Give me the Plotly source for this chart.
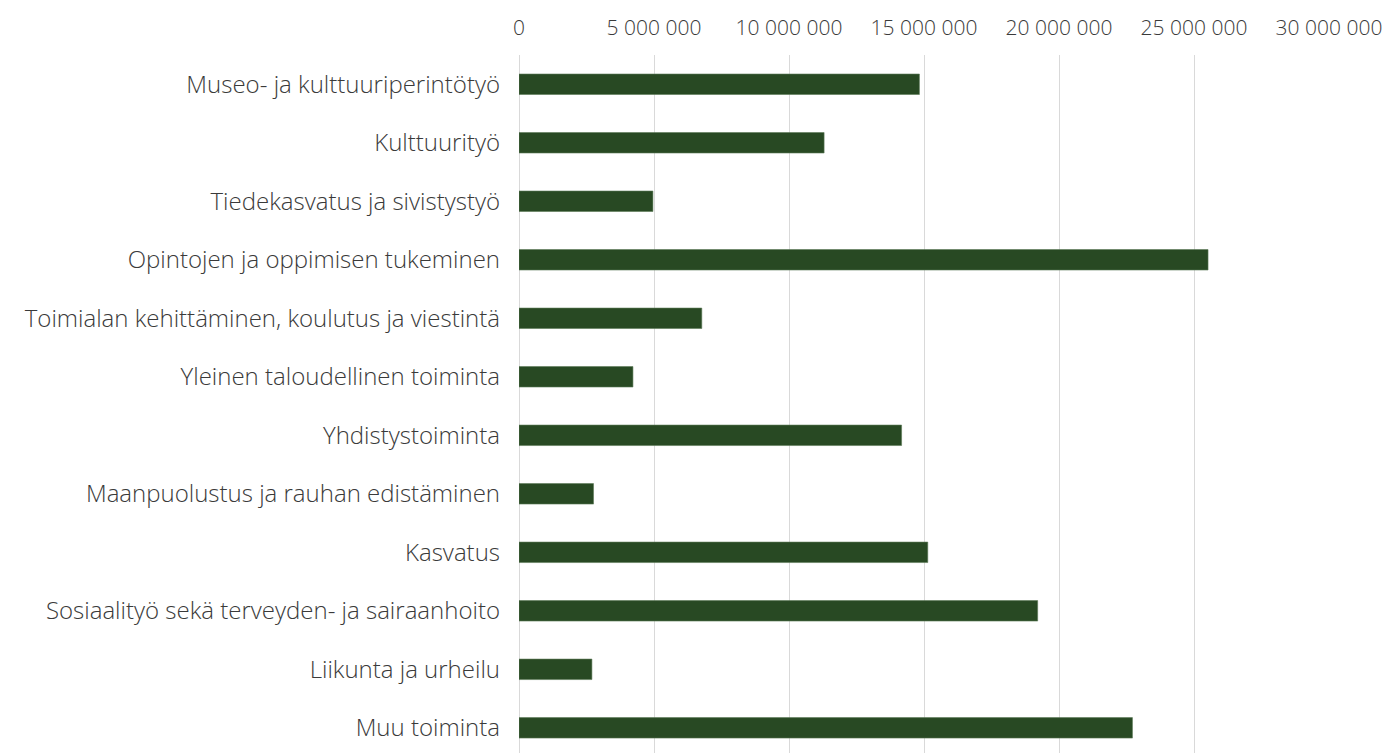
import plotly.graph_objects as go

categories = [
    "Museo- ja kulttuuriperintötyö",
    "Kulttuurityö",
    "Tiedekasvatus ja sivistystyö",
    "Opintojen ja oppimisen tukeminen",
    "Toimialan kehittäminen, koulutus ja viestintä",
    "Yleinen taloudellinen toiminta",
    "Yhdistystoiminta",
    "Maanpuolustus ja rauhan edistäminen",
    "Kasvatus",
    "Sosiaalityö sekä terveyden- ja sairaanhoito",
    "Liikunta ja urheilu",
    "Muu toiminta",
]
values = [14830000, 11300000, 4960000, 25520000, 6770000, 4220000,
          14170000, 2760000, 15140000, 19210000, 2700000, 22720000]
tick_vals = [0, 5000000, 10000000, 15000000, 20000000, 25000000, 30000000]
tick_text = ["0", "5 000 000", "10 000 000", "15 000 000", "20 000 000",
             "25 000 000", "30 000 000"]

positions = list(range(len(categories)))

fig = go.Figure(go.Bar(
    x=values, y=positions, orientation="h",
    marker=dict(color="#284923", line=dict(color="#5d7a58", width=0.6)),
    hoverinfo="x+text", text=categories, textposition="none",
))

FONT = "'Open Sans', Lato, sans-serif"

fig.update_layout(
    width=1391, height=753,
    margin=dict(l=511, r=70, t=47, b=8),
    paper_bgcolor="white", plot_bgcolor="white",
    bargap=0.65,
    font=dict(family=FONT, size=24, color="#3a3a3a", weight=300),
    showlegend=False,
    xaxis=dict(
        side="top", range=[0, 30000000], automargin=False,
        tickvals=tick_vals, ticktext=tick_text,
        showgrid=True, gridcolor="#d9d9d9", gridwidth=1,
        zeroline=True, zerolinecolor="#d9d9d9", zerolinewidth=1,
        showline=False, ticks="", ticklabelstandoff=15,
        tickfont=dict(family=FONT, size=21, color="#3a3a3a", weight=300),
    ),
    yaxis=dict(
        range=[11.43, -0.5], automargin=False,
        tickvals=positions, ticktext=categories,
        showgrid=False, zeroline=False, showline=False,
        ticks="", ticklabelstandoff=18,
        tickfont=dict(family=FONT, size=24, color="#3a3a3a", weight=300),
    ),
)

fig.write_html("out.html")
